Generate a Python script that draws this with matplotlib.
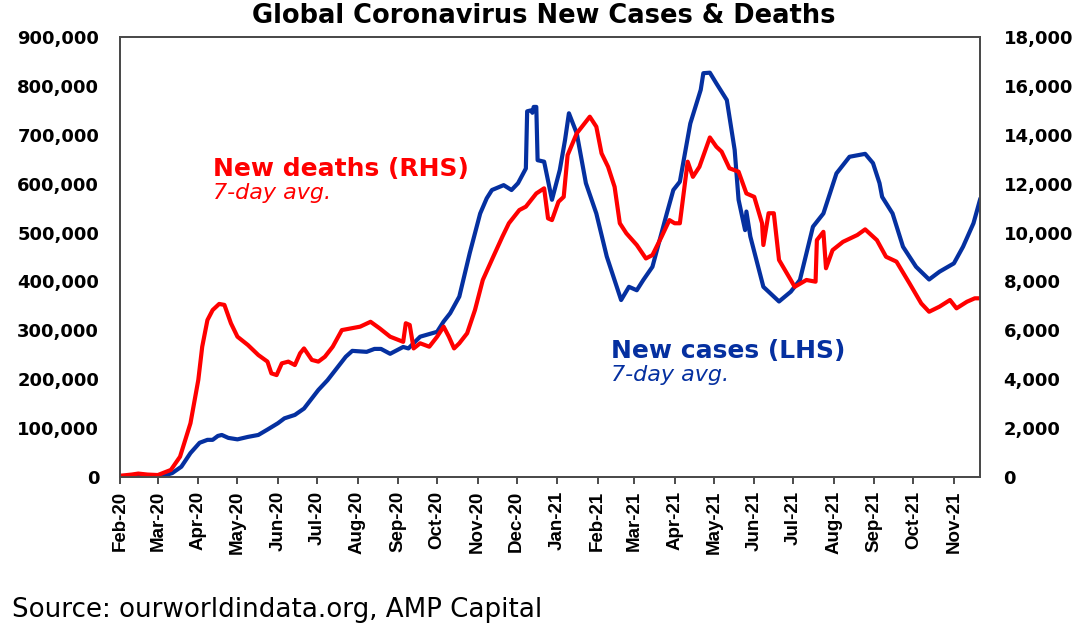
import pandas as pd
import matplotlib
matplotlib.use("Agg")
import matplotlib.pyplot as plt
import matplotlib.dates as mdates
from matplotlib.ticker import FuncFormatter, MultipleLocator

# new cases, 7-day avg (LHS)
case_dates = [
    "2020-02-01", "2020-02-15", "2020-03-01", "2020-03-06", "2020-03-12", "2020-03-19",
    "2020-03-26", "2020-04-02", "2020-04-08", "2020-04-12", "2020-04-16", "2020-04-19",
    "2020-04-24", "2020-05-01", "2020-05-09", "2020-05-17", "2020-05-24", "2020-06-01",
    "2020-06-06", "2020-06-14", "2020-06-21", "2020-07-02", "2020-07-09", "2020-07-16",
    "2020-07-23", "2020-07-28", "2020-08-08", "2020-08-14", "2020-08-19", "2020-08-26",
    "2020-09-05", "2020-09-09", "2020-09-18", "2020-10-01", "2020-10-06", "2020-10-11",
    "2020-10-18", "2020-10-26", "2020-11-03", "2020-11-08", "2020-11-12", "2020-11-21",
    "2020-11-27", "2020-12-02", "2020-12-08", "2020-12-09", "2020-12-12", "2020-12-13",
    "2020-12-14", "2020-12-16", "2020-12-17", "2020-12-22", "2020-12-28", "2021-01-03",
    "2021-01-07", "2021-01-10", "2021-01-16", "2021-01-23", "2021-01-31", "2021-02-08",
    "2021-02-19", "2021-02-25", "2021-03-03", "2021-03-08", "2021-03-15", "2021-03-26",
    "2021-03-31", "2021-04-05", "2021-04-13", "2021-04-21", "2021-04-23", "2021-04-28",
    "2021-05-03", "2021-05-11", "2021-05-17", "2021-05-20", "2021-05-25", "2021-05-26",
    "2021-05-29", "2021-06-08", "2021-06-20", "2021-06-29", "2021-07-06", "2021-07-16",
    "2021-07-24", "2021-08-03", "2021-08-13", "2021-08-25", "2021-08-31", "2021-09-05",
    "2021-09-07", "2021-09-15", "2021-09-23", "2021-10-03", "2021-10-13", "2021-10-21",
    "2021-11-01", "2021-11-08", "2021-11-16", "2021-11-21",
]
new_cases = [
    2000, 2000, 2000, 3000, 8000, 21000,
    49000, 70000, 76000, 76000, 84000, 86000,
    80000, 77000, 82000, 86000, 97000, 110000,
    120000, 127000, 140000, 178000, 198000, 222000,
    246000, 258000, 256000, 262000, 262000, 252000,
    266000, 263000, 287000, 297000, 318000, 335000,
    369000, 458000, 539000, 570000, 587000, 597000,
    587000, 601000, 631000, 748000, 750000, 745000,
    757000, 757000, 648000, 645000, 567000, 628000,
    689000, 744000, 703000, 601000, 539000, 451000,
    362000, 389000, 382000, 403000, 430000, 539000,
    587000, 604000, 723000, 792000, 826000, 827000,
    805000, 771000, 669000, 567000, 505000, 543000,
    492000, 389000, 359000, 379000, 403000, 512000,
    539000, 621000, 655000, 661000, 642000, 601000,
    573000, 539000, 471000, 430000, 404000, 420000,
    437000, 471000, 519000, 567000,
]

# new deaths, 7-day avg (RHS)
death_dates = [
    "2020-02-01", "2020-02-10", "2020-02-15", "2020-02-22", "2020-03-01", "2020-03-11",
    "2020-03-18", "2020-03-26", "2020-04-01", "2020-04-04", "2020-04-08", "2020-04-12",
    "2020-04-17", "2020-04-21", "2020-04-26", "2020-05-01", "2020-05-09", "2020-05-17",
    "2020-05-24", "2020-05-27", "2020-05-31", "2020-06-04", "2020-06-09", "2020-06-14",
    "2020-06-18", "2020-06-21", "2020-06-27", "2020-07-02", "2020-07-07", "2020-07-13",
    "2020-07-20", "2020-08-03", "2020-08-11", "2020-08-18", "2020-08-26", "2020-09-05",
    "2020-09-07", "2020-09-10", "2020-09-13", "2020-09-18", "2020-09-25", "2020-10-01",
    "2020-10-06", "2020-10-10", "2020-10-14", "2020-10-18", "2020-10-24", "2020-10-30",
    "2020-11-05", "2020-11-13", "2020-11-20", "2020-11-25", "2020-12-03", "2020-12-08",
    "2020-12-16", "2020-12-22", "2020-12-25", "2020-12-28", "2021-01-02", "2021-01-06",
    "2021-01-09", "2021-01-16", "2021-01-20", "2021-01-26", "2021-01-31", "2021-02-04",
    "2021-02-09", "2021-02-14", "2021-02-18", "2021-02-23", "2021-03-03", "2021-03-10",
    "2021-03-15", "2021-03-22", "2021-03-28", "2021-04-01", "2021-04-05", "2021-04-11",
    "2021-04-15", "2021-04-20", "2021-04-28", "2021-05-03", "2021-05-07", "2021-05-13",
    "2021-05-20", "2021-05-26", "2021-06-01", "2021-06-07", "2021-06-08", "2021-06-12",
    "2021-06-16", "2021-06-20", "2021-06-29", "2021-07-02", "2021-07-11", "2021-07-18",
    "2021-07-19", "2021-07-24", "2021-07-26", "2021-07-31", "2021-08-08", "2021-08-19",
    "2021-08-25", "2021-09-03", "2021-09-10", "2021-09-18", "2021-09-28", "2021-10-07",
    "2021-10-13", "2021-10-21", "2021-10-29", "2021-11-03", "2021-11-11", "2021-11-17",
    "2021-11-21",
]
new_deaths = [
    50, 100, 140, 100, 80, 290,
    830, 2200, 3970, 5330, 6420, 6830,
    7080, 7040, 6290, 5740, 5400, 4990,
    4720, 4240, 4170, 4650, 4720, 4580,
    5060, 5260, 4790, 4720, 4920, 5330,
    6010, 6150, 6350, 6080, 5740, 5530,
    6290, 6220, 5260, 5470, 5330, 5740,
    6150, 5740, 5260, 5470, 5880, 6830,
    8060, 9010, 9830, 10380, 10920, 11060,
    11600, 11810, 10580, 10510, 11260, 11460,
    13170, 14060, 14330, 14740, 14330, 13240,
    12690, 11870, 10380, 9970, 9490, 8940,
    9080, 9830, 10510, 10380, 10380, 12900,
    12280, 12690, 13890, 13510, 13310, 12630,
    12490, 11600, 11460, 10380, 9490, 10790,
    10790, 8880, 8060, 7780, 8060, 7990,
    9690, 10030, 8540, 9280, 9620, 9900,
    10130, 9690, 9010, 8810, 7920, 7100,
    6760, 6970, 7240, 6900, 7170, 7310,
    7310,
]

month_starts = pd.date_range("2020-02-01", "2021-11-01", freq="MS")

blue = "#0530a0"
red = "#ff0000"
spine_col = "#4a4a4a"

fig = plt.figure(figsize=(10.86, 6.4), dpi=100)
ax = fig.add_axes([120 / 1086, 1 - 477 / 640, 860 / 1086, 440 / 640])
ax2 = ax.twinx()

ax.plot(pd.to_datetime(case_dates), new_cases, color=blue, lw=3, solid_joinstyle="round")
ax2.plot(pd.to_datetime(death_dates), new_deaths, color=red, lw=3, solid_joinstyle="round")

ax.set_xlim(pd.Timestamp("2020-02-01"), pd.Timestamp("2021-11-21"))
ax.set_ylim(0, 900000)
ax2.set_ylim(0, 18000)
ax.yaxis.set_major_locator(MultipleLocator(100000))
ax2.yaxis.set_major_locator(MultipleLocator(2000))
fmt = FuncFormatter(lambda v, p: f"{v:,.0f}")
ax.yaxis.set_major_formatter(fmt)
ax2.yaxis.set_major_formatter(fmt)

ax.set_xticks(month_starts)
ax.xaxis.set_major_formatter(mdates.DateFormatter("%b-%y"))
for lab in ax.get_xticklabels():
    lab.set_rotation(90)
    lab.set_fontfamily("Liberation Sans")
    lab.set_fontweight("bold")
    lab.set_fontsize(13.5)
ax.tick_params(axis="x", length=5, width=1.4, color=spine_col, pad=5)
ax.tick_params(axis="y", length=0, pad=15, labelsize=13)
ax2.tick_params(axis="y", length=0, pad=17, labelsize=13)
for lab in ax.get_yticklabels() + ax2.get_yticklabels():
    lab.set_fontweight("bold")
    lab.set_fontfamily("DejaVu Sans")

for a in (ax, ax2):
    for s in a.spines.values():
        s.set_color(spine_col)
        s.set_linewidth(1.3)

fig.text(544 / 1086, 1 - 16 / 640, "Global Coronavirus New Cases & Deaths",
         ha="center", va="center", fontsize=18.5, fontweight="bold", family="DejaVu Sans")

fig.text(213 / 1086, 1 - 176 / 640, "New deaths (RHS)", color=red,
         fontsize=18, fontweight="bold", family="DejaVu Sans", va="baseline")
fig.text(213 / 1086, 1 - 199 / 640, "7-day avg.", color=red,
         fontsize=16, style="italic", family="DejaVu Sans", va="baseline")
fig.text(611 / 1086, 1 - 358 / 640, "New cases (LHS)", color=blue,
         fontsize=18, fontweight="bold", family="DejaVu Sans", va="baseline")
fig.text(611 / 1086, 1 - 381 / 640, "7-day avg.", color=blue,
         fontsize=16, style="italic", family="DejaVu Sans", va="baseline")

fig.text(12 / 1086, 1 - 610 / 640, "Source: ourworldindata.org, AMP Capital",
         fontsize=18.8, family="DejaVu Sans", va="center")

fig.savefig("out.png", dpi=100)
